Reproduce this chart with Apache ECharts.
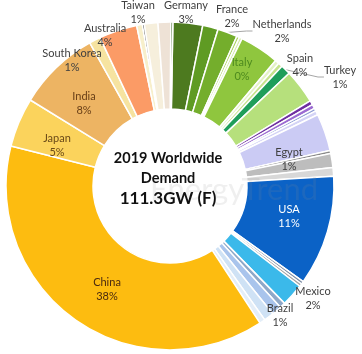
<!DOCTYPE html>
<html>
<head>
  <meta charset="utf-8">
  <title>2019 Worldwide Demand</title>
  <script src="https://fastly.jsdelivr.net/npm/echarts@6/dist/echarts.min.js"></script>
</head>
<body style="margin:0">
<div id="chart-container" style="position: relative; width: 362px; height: 354px; overflow: hidden;"></div>
<script type="text/javascript">
  // GW by market, clockwise from the top
  var names = [
    'Germany', 'France', 'Netherlands', 'Italy', 'Other EU 1', 'Spain', 'Other EU 2', 'Other EU 3',
    'Turkey', 'Other EU 4', 'MEA 1', 'MEA 2', 'MEA 3', 'MEA 4', 'MEA 5', 'MEA 6', 'Egypt', 'MEA 7',
    'USA', 'Americas 1', 'Americas 2', 'Mexico', 'Americas 3', 'Brazil', 'Americas 4', 'Americas 5',
    'China', 'Japan', 'India', 'South Korea', 'Australia', 'Taiwan', 'APAC 1', 'APAC 2', 'APAC 3', 'EU 5'
  ];
  var values = [
    3.25, 1.70, 2.16, 0.31, 0.31, 4.33, 0.46, 0.46,
    1.08, 3.75, 0.46, 0.46, 0.31, 0.46, 4.10, 0.31, 1.55, 0.93,
    12.06, 0.31, 0.31, 2.47, 0.62, 1.08, 1.08, 0.62,
    42.36, 5.41, 8.97, 1.24, 4.17, 0.62, 0.22, 1.48, 1.39, 0.22
  ];
  var colors = [
    '#4d7a1f', '#5f9b23', '#74ae2c', '#a9d25e', '#d3eaa6', '#8fc63e', '#e4f2c6', '#c6e28c',
    '#1f9e5a', '#b6e07c', '#6f2fa0', '#9b6bd1', '#8e9cd3', '#d4d4f6', '#cbcbf4', '#8a8a8a', '#bdbdbd', '#d8d8d8',
    '#0b62c6', '#7f8fa6', '#a3a3a3', '#3bb9ea', '#8fa8c8', '#a9c4ec', '#cfe2f5', '#e4eef8',
    '#fdbc10', '#fbd35c', '#edb463', '#f6e3a0', '#fb9b66', '#f7efcb', '#404040', '#f6efdc', '#eee2d6', '#2f5c16'
  ];

  // where the data labels sit (centre of the two-line label)
  var labelPos = {
    'Taiwan': [138, 12], 'Germany': [186, 12], 'France': [232, 16], 'Netherlands': [282, 31],
    'Italy': [242, 69], 'Spain': [300, 65], 'Turkey': [340, 77], 'Egypt': [289, 159],
    'USA': [289, 216], 'Mexico': [313, 298], 'Brazil': [280, 315], 'China': [107, 289],
    'Japan': [57, 145], 'India': [84, 103], 'South Korea': [72, 60], 'Australia': [105, 35]
  };
  var labelColor = {
    'USA': '#ffffff', 'China': '#4a2a10', 'India': '#6a4018', 'Japan': '#6a4a18', 'Italy': '#4d8a1e'
  };
  var withLine = ['Turkey', 'Netherlands'];

  var dom = document.getElementById('chart-container');
  var myChart = echarts.init(dom, null, {
    renderer: 'canvas'
  });

  var pieData = names.map(function (n, i) {
    var shown = !!labelPos[n];
    return {
      name: n,
      value: values[i],
      itemStyle: { color: colors[i] },
      label: { show: shown, color: labelColor[n] || '#404040' },
      labelLine: { show: withLine.indexOf(n) >= 0 }
    };
  });

  var option = {
    animation: false,
    backgroundColor: '#ffffff',
    series: [
      {
        type: 'pie',
        center: [170, 186],
        radius: [77, 164],
        startAngle: 89,
        clockwise: true,
        avoidLabelOverlap: false,
        itemStyle: {
          borderColor: '#ffffff',
          borderWidth: 1.5
        },
        label: {
          formatter: function (p) {
            return p.name + '\n' + Math.round(p.percent) + '%';
          },
          fontFamily: 'Lato',
          fontSize: 11,
          lineHeight: 14,
          align: 'center'
        },
        labelLine: {
          length: 6,
          length2: 6,
          lineStyle: { color: '#a6a6a6', width: 1 }
        },
        labelLayout: function (params) {
          var p = labelPos[names[params.dataIndex]];
          if (!p) return {};
          return { x: p[0], y: p[1], align: 'center', verticalAlign: 'middle' };
        },
        data: pieData
      }
    ],
    graphic: [
      {
        type: 'text', z: 50, silent: true,
        style: { text: 'EnergyTrend', x: 150, y: 190, textAlign: 'left', textVerticalAlign: 'middle',
                 font: '31px Lato', fill: 'rgba(140,140,140,0.14)' }
      },
      {
        type: 'text', z: 60,
        style: { text: '2019 Worldwide', x: 168, y: 158, textAlign: 'center', textVerticalAlign: 'middle',
                 font: 'bold 14.5px Lato', fill: '#111' }
      },
      {
        type: 'text', z: 60,
        style: { text: 'Demand', x: 168, y: 178, textAlign: 'center', textVerticalAlign: 'middle',
                 font: 'bold 14.5px Lato', fill: '#111' }
      },
      {
        type: 'text', z: 60,
        style: { text: '111.3GW (F)', x: 168, y: 199, textAlign: 'center', textVerticalAlign: 'middle',
                 font: 'bold 17px Lato', fill: '#111' }
      }
    ]
  };

  myChart.setOption(option);
  window.addEventListener('resize', myChart.resize);
</script>
</body>
</html>
